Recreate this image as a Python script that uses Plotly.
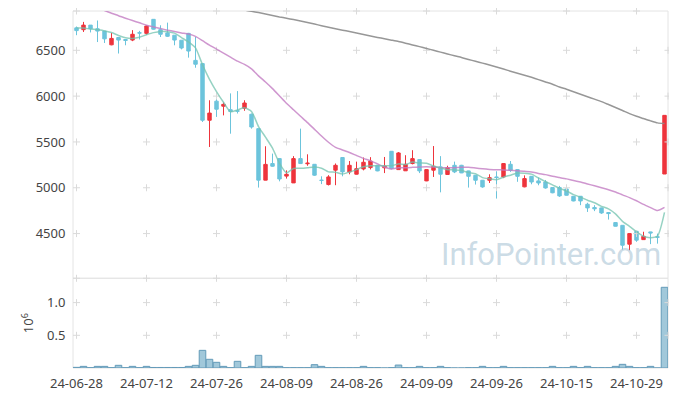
import plotly.graph_objects as go
import pandas as pd

dates = ["2024-06-28",
         "2024-07-01", "2024-07-02", "2024-07-03", "2024-07-04", "2024-07-05", "2024-07-08", "2024-07-09",
         "2024-07-10", "2024-07-11", "2024-07-12", "2024-07-15", "2024-07-16", "2024-07-17", "2024-07-18",
         "2024-07-19", "2024-07-22", "2024-07-23", "2024-07-24", "2024-07-25", "2024-07-26", "2024-07-29",
         "2024-07-30", "2024-07-31",
         "2024-08-01", "2024-08-02", "2024-08-05", "2024-08-06", "2024-08-07", "2024-08-08", "2024-08-09",
         "2024-08-12", "2024-08-13", "2024-08-14", "2024-08-16", "2024-08-19", "2024-08-20", "2024-08-21",
         "2024-08-22", "2024-08-23", "2024-08-26", "2024-08-27", "2024-08-28", "2024-08-29", "2024-08-30",
         "2024-09-02", "2024-09-03", "2024-09-04", "2024-09-05", "2024-09-06", "2024-09-09", "2024-09-10",
         "2024-09-11", "2024-09-12", "2024-09-13", "2024-09-19", "2024-09-20", "2024-09-23", "2024-09-24",
         "2024-09-25", "2024-09-26", "2024-09-27", "2024-09-30",
         "2024-10-02", "2024-10-04", "2024-10-07", "2024-10-08", "2024-10-10", "2024-10-11", "2024-10-14",
         "2024-10-15", "2024-10-16", "2024-10-17", "2024-10-18", "2024-10-21", "2024-10-22", "2024-10-23",
         "2024-10-24", "2024-10-25", "2024-10-28", "2024-10-29", "2024-10-30", "2024-10-31",
         "2024-11-01", "2024-11-04"]

open_ = [6745, 6725, 6775, 6735, 6710, 6560, 6640, 6618, 6612, 6692,
         6685, 6838, 6725, 6690, 6665, 6610, 6685, 6390, 6355, 5737,
         5945, 5890, 5852, 5840, 5868, 5802, 5645, 5083, 5264, 5318,
         5127, 5053, 5318, 5262, 5256, 5083, 5035, 5192, 5330, 5173,
         5148, 5205, 5220, 5245, 5218, 5398, 5198, 5185, 5264, 5307,
         5075, 5192, 5228, 5145, 5245, 5245, 5184, 5136, 5082, 5082,
         5118, 5118, 5256, 5198, 5010, 5125, 5075, 5063, 5002, 5002,
         4987, 4907, 4907, 4820, 4785, 4780, 4730, 4620, 4590, 4384,
         4525, 4434, 4518, 4465, 5150]

high = [6760, 6810, 6775, 6825, 6712, 6690, 6640, 6620, 6720, 6712,
        6773, 6840, 6773, 6802, 6665, 6610, 6690, 6645, 6355, 5955,
        6028, 5932, 6030, 6055, 5955, 5810, 5645, 5453, 5373, 5320,
        5190, 5345, 5645, 5365, 5258, 5125, 5137, 5265, 5330, 5292,
        5285, 5330, 5334, 5250, 5336, 5400, 5390, 5355, 5410, 5310,
        5200, 5455, 5345, 5240, 5285, 5250, 5186, 5140, 5085, 5147,
        5180, 5270, 5292, 5200, 5135, 5128, 5111, 5085, 5005, 5020,
        4995, 4910, 4910, 4836, 4810, 4783, 4732, 4622, 4592, 4502,
        4530, 4520, 4520, 4500, 5790]

low = [6665, 6700, 6695, 6590, 6580, 6555, 6465, 6555, 6600, 6618,
       6670, 6725, 6645, 6645, 6555, 6510, 6420, 6310, 5718, 5445,
       5773, 5790, 5590, 5810, 5840, 5645, 5002, 5082, 5230, 5070,
       5100, 5052, 5262, 5240, 5130, 5040, 5025, 5028, 5125, 5147,
       5145, 5190, 5200, 5180, 5160, 5200, 5198, 5183, 5255, 5160,
       5072, 5118, 4950, 5140, 5160, 5160, 5002, 5035, 5000, 5052,
       4882, 5105, 5173, 5065, 5005, 5038, 5027, 4990, 4940, 4900,
       4915, 4852, 4810, 4736, 4745, 4715, 4653, 4578, 4325, 4318,
       4410, 4430, 4385, 4390, 5150]

close = [6715, 6775, 6735, 6710, 6625, 6630, 6612, 6608, 6675, 6688,
         6765, 6730, 6675, 6653, 6612, 6525, 6492, 6348, 5737, 5815,
         5857, 5910, 5832, 5836, 5925, 5663, 5083, 5255, 5235, 5096,
         5147, 5318, 5264, 5268, 5137, 5080, 5118, 5245, 5173, 5245,
         5208, 5278, 5292, 5184, 5237, 5210, 5380, 5256, 5318, 5184,
         5198, 5234, 5148, 5220, 5173, 5162, 5125, 5082, 5009, 5110,
         5112, 5264, 5191, 5125, 5100, 5063, 5052, 4998, 4945, 4911,
         4918, 4856, 4856, 4780, 4770, 4725, 4718, 4580, 4373, 4500,
         4428, 4470, 4507, 4460, 5790]

volume = [10000, 25000, 5000, 25000, 25000, 5000, 41000, 5000, 25000, 5000,
          25000, 8000, 8000, 8000, 8000, 8000, 25000, 41000, 270000, 133000,
          87000, 25000, 5000, 102000, 5000, 25000, 194000, 25000, 25000, 25000,
          5000, 5000, 5000, 5000, 51000, 25000, 5000, 5000, 5000, 5000,
          5000, 25000, 5000, 5000, 0, 5000, 45000, 5000, 5000, 25000,
          5000, 5000, 25000, 5000, 0, 0, 5000, 5000, 25000, 5000,
          5000, 25000, 5000, 5000, 5000, 5000, 5000, 5000, 25000, 5000,
          5000, 25000, 5000, 25000, 5000, 5000, 5000, 25000, 56000, 25000,
          5000, 5000, 25000, 0, 1234000]

# moving-average values before the window is full
ma5_head = [6743, 6743, 6732, 6726]
ma20_head = [7040, 7012, 6985, 6960, 6935, 6905, 6878, 6850, 6825, 6800,
             6773, 6755, 6737, 6720, 6705, 6690, 6677, 6652, 6605]
# long moving average
ma_long = [None] * 22 + [
    6985, 6962, 6940, 6925, 6912, 6896, 6880, 6864, 6850, 6835,
    6820, 6803, 6786, 6769, 6752, 6735, 6720, 6705, 6690, 6673,
    6656, 6641, 6626, 6611, 6596, 6578, 6559, 6540, 6520, 6500,
    6480, 6460, 6440, 6422, 6400, 6380, 6360, 6340, 6318, 6295,
    6272, 6250, 6228, 6205, 6180, 6155, 6130, 6100, 6075, 6048,
    6020, 5993, 5967, 5940, 5908, 5876, 5843, 5809, 5780, 5755,
    5730, 5708, 5700]

price_ticks = [4500, 5000, 5500, 6000, 6500]
vol_ticks = [500000, 1000000]
vol_tick_text = ["0.5", "1.0"]
TICK_STEP = 10

RED = "#ee343c"
BLUE = "#6cc4dc"
GRID = "#dadada"
FONT = "Noto Sans"

x = list(range(len(dates)))
ma5 = pd.Series(close, dtype=float).rolling(5).mean().tolist()
ma5[:len(ma5_head)] = ma5_head
ma20 = pd.Series(close, dtype=float).rolling(20).mean().tolist()
ma20[:len(ma20_head)] = ma20_head

xt = x[::TICK_STEP]
xt_text = [d[2:] for d in dates[::TICK_STEP]]

Y_RANGE = [4012, 6929]
V_RANGE = [0, 1372000]
X_RANGE = [-0.5, len(dates) - 0.5]
SPLIT = 0.2513

fig = go.Figure()

# grid crosses
cx, cy = [], []
for xv in xt:
    for yv in price_ticks + Y_RANGE:
        cx.append(xv); cy.append(yv)
for yv in price_ticks:
    cx.append(X_RANGE[1]); cy.append(yv)
fig.add_trace(go.Scatter(x=cx, y=cy, mode="markers", xaxis="x", yaxis="y",
                         marker=dict(symbol="cross-thin", size=5, line=dict(color=GRID, width=1)),
                         hoverinfo="skip", cliponaxis=False, showlegend=False))
vx, vy = [], []
for xv in xt:
    for yv in vol_ticks:
        vx.append(xv); vy.append(yv)
for yv in vol_ticks:
    vx.append(X_RANGE[1]); vy.append(yv)
fig.add_trace(go.Scatter(x=vx, y=vy, mode="markers", xaxis="x", yaxis="y2",
                         marker=dict(symbol="cross-thin", size=5, line=dict(color=GRID, width=1)),
                         hoverinfo="skip", cliponaxis=False, showlegend=False))

fig.add_trace(go.Candlestick(
    x=x, open=open_, high=high, low=low, close=close, xaxis="x", yaxis="y",
    increasing=dict(line=dict(color=RED, width=1), fillcolor=RED),
    decreasing=dict(line=dict(color=BLUE, width=1), fillcolor=BLUE),
    whiskerwidth=0, showlegend=False))

fig.add_trace(go.Scatter(x=x, y=ma_long, mode="lines", xaxis="x", yaxis="y",
                         line=dict(color="rgba(140,140,140,0.9)", width=1.5, shape="spline", smoothing=0.6),
                         showlegend=False))
fig.add_trace(go.Scatter(x=x, y=ma20, mode="lines", xaxis="x", yaxis="y",
                         line=dict(color="rgba(195,125,195,0.8)", width=1.5, shape="spline", smoothing=0.6),
                         showlegend=False))
fig.add_trace(go.Scatter(x=x, y=ma5, mode="lines", xaxis="x", yaxis="y",
                         line=dict(color="rgba(115,195,175,0.75)", width=1.5, shape="spline", smoothing=0.6),
                         showlegend=False))

fig.add_trace(go.Bar(x=x, y=volume, xaxis="x", yaxis="y2",
                     marker=dict(color="rgba(145,190,212,0.85)", line=dict(color="rgba(100,155,185,1)", width=1)),
                     showlegend=False))

# the page body has an 8px margin; size the figure so the plot area lands where the reference has it
fig.update_layout(
    width=669, height=388,
    margin=dict(l=65, r=9, t=3, b=28),
    paper_bgcolor="white", plot_bgcolor="white",
    font=dict(family=FONT, size=13, color="#444"),
    bargap=0.06, boxgap=0.3,
    xaxis=dict(type="linear", range=X_RANGE, autorange=False, tickvals=xt, ticktext=xt_text,
               showgrid=False, zeroline=False, automargin=False,
               anchor="y2", rangeslider=dict(visible=False), ticks="outside", ticklen=3,
               tickcolor="rgba(0,0,0,0)", tickfont=dict(size=13, color="#444")),
    yaxis=dict(domain=[SPLIT, 1], range=Y_RANGE, autorange=False, tickvals=price_ticks,
               showgrid=False, zeroline=False, automargin=False,
               anchor="x", ticks="outside", ticklen=4, tickcolor="rgba(0,0,0,0)",
               tickfont=dict(size=13, color="#444")),
    yaxis2=dict(domain=[0, SPLIT], range=V_RANGE, autorange=False, tickvals=vol_ticks,
                ticktext=vol_tick_text, showgrid=False, zeroline=False, automargin=False,
                anchor="x", ticks="outside", ticklen=4,
                tickcolor="rgba(0,0,0,0)", tickfont=dict(size=13, color="#444"),
                title=dict(text="10<sup>6</sup>", standoff=10, font=dict(size=13, color="#444"))),
    shapes=[
        dict(type="rect", xref="paper", yref="paper", x0=0, x1=1, y0=SPLIT, y1=1,
             line=dict(color="#e4e4e4", width=1), layer="below"),
        dict(type="rect", xref="paper", yref="paper", x0=0, x1=1, y0=0, y1=SPLIT,
             line=dict(color="#e4e4e4", width=1), layer="below"),
    ],
    annotations=[dict(text="InfoPointer.com", xref="paper", yref="paper", x=0.803, y=0.3185,
                      xanchor="center", yanchor="middle", showarrow=False,
                      font=dict(family="Roboto", size=31, color="rgba(160,190,208,0.55)"))],
)

fig.write_html("out.html")
